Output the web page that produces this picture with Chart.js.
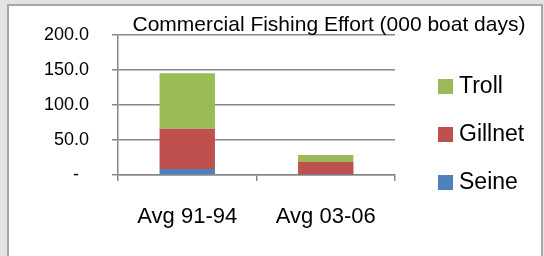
<!DOCTYPE html>
<html>
<head>
<meta charset="utf-8">
<script src="https://cdn.jsdelivr.net/npm/chart.js@4"></script>
<style>
  html, body { margin: 0; padding: 0; }
  body { width: 544px; height: 256px; background: #e3e3e3; position: relative; overflow: hidden; }
  .frame { position: absolute; left: 7px; top: 4px; width: 532px; height: 262px; background: #fff; border: 2px solid #a6a6a6; }
  #wrap { position: absolute; left: 0; top: 0; width: 544px; height: 256px; }
</style>
</head>
<body>
<div class="frame"></div>
<div id="wrap"><canvas id="effortChart" width="544" height="256"></canvas></div>
<script>
// values (000 boat days)
const categories = ['Avg 91-94', 'Avg 03-06'];
const seine = [8.6, 0.3];
const gillnet = [57.3, 18.3];
const troll = [79.4, 10.1];
const yTicks = [0, 50, 100, 150, 200];
const chartTitle = 'Commercial Fishing Effort (000 boat days)';

const FONT = "'Liberation Sans', Arial, sans-serif";

// title sits across the top of the plot, off-centre like the original
const titlePlugin = {
  id: 'titleText',
  afterDraw(chart) {
    const ctx = chart.ctx;
    ctx.save();
    ctx.font = '21px ' + FONT;
    ctx.fillStyle = '#000';
    ctx.textAlign = 'center';
    ctx.textBaseline = 'middle';
    ctx.fillText(chartTitle, 329, 25);
    ctx.restore();
  }
};

// legend on the right, reversed order (Troll on top)
const legendPlugin = {
  id: 'sideLegend',
  afterDraw(chart) {
    const ctx = chart.ctx;
    const sets = chart.data.datasets.slice().reverse();
    ctx.save();
    ctx.font = '23px ' + FONT;
    ctx.textBaseline = 'middle';
    sets.forEach((ds, i) => {
      const y = 86 + i * 48;
      ctx.fillStyle = ds.backgroundColor;
      ctx.fillRect(438, y - 7, 15, 15);
      ctx.fillStyle = '#000';
      ctx.fillText(ds.label, 459, y + 1);
    });
    ctx.restore();
  }
};

new Chart(document.getElementById('effortChart'), {
  type: 'bar',
  data: {
    labels: categories,
    datasets: [
      { label: 'Seine', data: seine, backgroundColor: '#4F81BD' },
      { label: 'Gillnet', data: gillnet, backgroundColor: '#C0504D' },
      { label: 'Troll', data: troll, backgroundColor: '#9BBB59' }
    ]
  },
  options: {
    responsive: false,
    animation: false,
    layout: { padding: { top: 35, right: 149, left: 0, bottom: 0 } },
    datasets: { bar: { categoryPercentage: 1, barPercentage: 0.4 } },
    plugins: { legend: { display: false }, tooltip: { enabled: false } },
    scales: {
      x: {
        stacked: true,
        afterFit(scale) { scale.height = 81; },
        grid: { drawOnChartArea: false, offset: true, tickLength: 6, color: '#888', lineWidth: 1.5 },
        border: { color: '#888', width: 1.5 },
        ticks: { color: '#000', font: { family: FONT, size: 22 }, padding: 23, maxRotation: 0 }
      },
      y: {
        stacked: true,
        min: 0,
        max: 200,
        afterFit(scale) { scale.width = 118; },
        afterBuildTicks(scale) { scale.ticks = yTicks.map(v => ({ value: v })); },
        grid: { color: '#888', lineWidth: 1.5, tickLength: 6 },
        border: { color: '#888', width: 1.5 },
        ticks: {
          color: '#000',
          font: { family: FONT, size: 18 },
          padding: 23,
          callback: v => (v === 0 ? '-  ' : v.toFixed(1))
        }
      }
    }
  },
  plugins: [titlePlugin, legendPlugin]
});
</script>
</body>
</html>
